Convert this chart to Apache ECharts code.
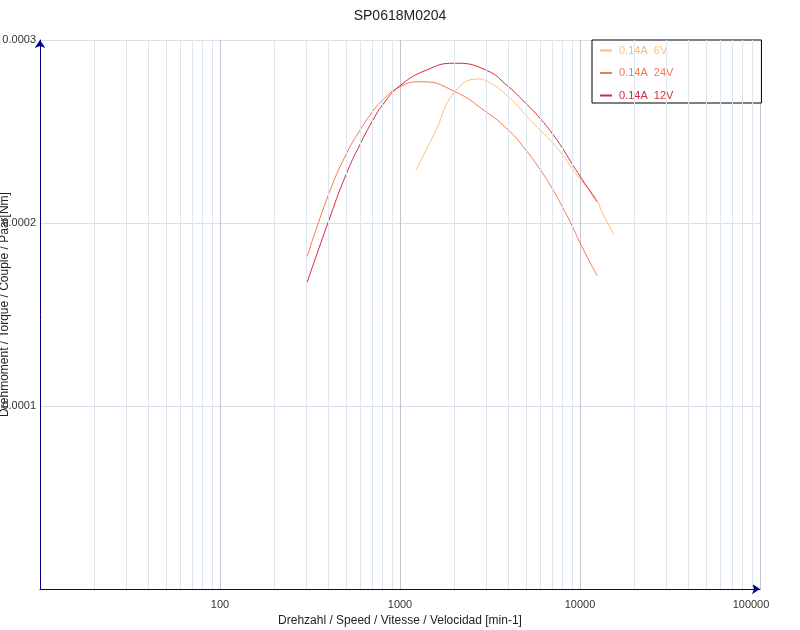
<!DOCTYPE html>
<html>
<head>
<meta charset="utf-8">
<script src="https://cdn.jsdelivr.net/npm/echarts@6/dist/echarts.min.js"></script>
<style>html,body{margin:0;padding:0;background:#fff}#c{width:800px;height:630px}</style>
</head>
<body>
<div id="c"></div>
<script>
const titleText = 'SP0618M0204';
const xName = 'Drehzahl / Speed / Vitesse / Velocidad [min-1]';
const yName = 'Drehmoment / Torque / Couple / Paar[Nm]';
const seriesNames = ['0.14A  6V', '0.14A  24V', '0.14A  12V'];
const seriesColors = ['#ffbb77', '#f47a50', '#d42a3a'];

const speed6V  = [1227, 1570, 2000, 2722, 3000, 4000, 5000, 6000, 7000, 8000, 9000, 10000, 12420, 13200, 15470];
const torque6V = [2.29e-4, 2.499e-4, 2.712e-4, 2.787e-4, 2.778e-4, 2.69e-4, 2.59e-4, 2.508e-4, 2.441e-4, 2.372e-4, 2.299e-4, 2.241e-4, 2.126e-4, 2.062e-4, 1.938e-4];

const speed24V  = [305, 400, 500, 600, 700, 800, 1000, 1322, 2000, 3000, 4000, 5000, 6000, 7000, 8000, 9000, 10000, 12420];
const torque24V = [1.816e-4, 2.153e-4, 2.372e-4, 2.508e-4, 2.605e-4, 2.672e-4, 2.745e-4, 2.772e-4, 2.72e-4, 2.608e-4, 2.508e-4, 2.399e-4, 2.293e-4, 2.19e-4, 2.086e-4, 1.989e-4, 1.892e-4, 1.713e-4];

const speed12V  = [305, 400, 500, 600, 700, 800, 1000, 1405, 2000, 3000, 4000, 5000, 6000, 7000, 8000, 9000, 10000, 12420];
const torque12V = [1.676e-4, 2.007e-4, 2.262e-4, 2.43e-4, 2.554e-4, 2.645e-4, 2.75e-4, 2.836e-4, 2.873e-4, 2.836e-4, 2.745e-4, 2.654e-4, 2.572e-4, 2.49e-4, 2.408e-4, 2.326e-4, 2.256e-4, 2.116e-4];

const xTickMax = 100000;
const minorXTicks = [20,30,40,50,60,70,80,90,200,300,400,500,600,700,800,900,2000,3000,4000,5000,6000,7000,8000,9000,20000,30000,40000,50000,60000,70000,80000,90000];

const zip = (xs, ys) => xs.map((x, i) => [x, ys[i]]);
const curves = [zip(speed6V, torque6V), zip(speed24V, torque24V), zip(speed12V, torque12V)];

const font = 'Liberation Sans, Arial, sans-serif';
const chart = echarts.init(document.getElementById('c'), null, {renderer: 'canvas'});
const series = [{
  name: 'minor', type: 'line', data: [], z: 1, silent: true,
  markLine: {
    silent: true, symbol: 'none', animation: false,
    label: {show: false},
    lineStyle: {color: '#dde5ee', width: 1, type: 'solid'},
    data: minorXTicks.map(v => ({xAxis: v}))
  }
}];
curves.forEach((d, i) => series.push({
  name: seriesNames[i], type: 'line', data: d, smooth: 0.5, symbol: 'none', z: 3,
  lineStyle: {color: seriesColors[i], width: 1}, itemStyle: {color: seriesColors[i]}
}));

chart.setOption({
  animation: false,
  backgroundColor: '#fff',
  title: {text: titleText, left: 'center', top: 4, textStyle: {fontFamily: font, fontSize: 14, fontWeight: 'normal', color: '#222'}},
  grid: {left: 40, right: 40, top: 40, bottom: 41, containLabel: false, outerBoundsMode: 'none'},
  legend: {
    data: seriesNames, orient: 'vertical', left: 592, top: 40,
    backgroundColor: '#fff', borderColor: '#000', borderWidth: 1, borderRadius: 0,
    padding: [5, 88, 2, 8], itemGap: 11.5, itemWidth: 12, itemHeight: 12,
    icon: 'path://M0,5 L12,5 L12,7 L0,7 Z',
    textStyle: {fontFamily: font, fontSize: 11, color: 'inherit', padding: [0, 0, 0, 2]},
    formatter: n => n
  },
  xAxis: {
    type: 'log', logBase: 10, min: 10, max: xTickMax,
    name: xName, nameLocation: 'middle', nameGap: 26,
    nameTextStyle: {fontFamily: font, fontSize: 12, color: '#222'},
    axisLine: {show: true, lineStyle: {color: '#000080', width: 1}, symbol: ['none', 'arrow'], symbolSize: [8, 8]},
    axisTick: {show: false},
    axisLabel: {showMinLabel: false, fontFamily: font, fontSize: 11, color: '#333', margin: 10,
      formatter: v => Math.round(v) === xTickMax ? '{last|' + Math.round(v) + '}' : String(Math.round(v)),
      rich: {last: {fontFamily: font, fontSize: 11, color: '#333', padding: [0, 18, 0, 0]}}},
    splitLine: {show: true, lineStyle: {color: '#c4c4d2', width: 1}}
  },
  yAxis: {
    type: 'value', min: 0, max: 0.0003, interval: 0.0001,
    name: yName, nameLocation: 'middle', nameGap: 29, nameMoveOverlap: false,
    nameTextStyle: {fontFamily: font, fontSize: 12, color: '#222', padding: [0, 0, 0, 20]},
    axisLine: {show: true, lineStyle: {color: '#000080', width: 1}, symbol: ['none', 'arrow'], symbolSize: [8, 8]},
    axisTick: {show: false},
    axisLabel: {showMinLabel: false, fontFamily: font, fontSize: 11, color: '#333', margin: 4,
      formatter: v => v.toFixed(4)},
    splitLine: {show: true, lineStyle: {color: '#dcdce6', width: 1}}
  },
  series: series
});
</script>
</body>
</html>
